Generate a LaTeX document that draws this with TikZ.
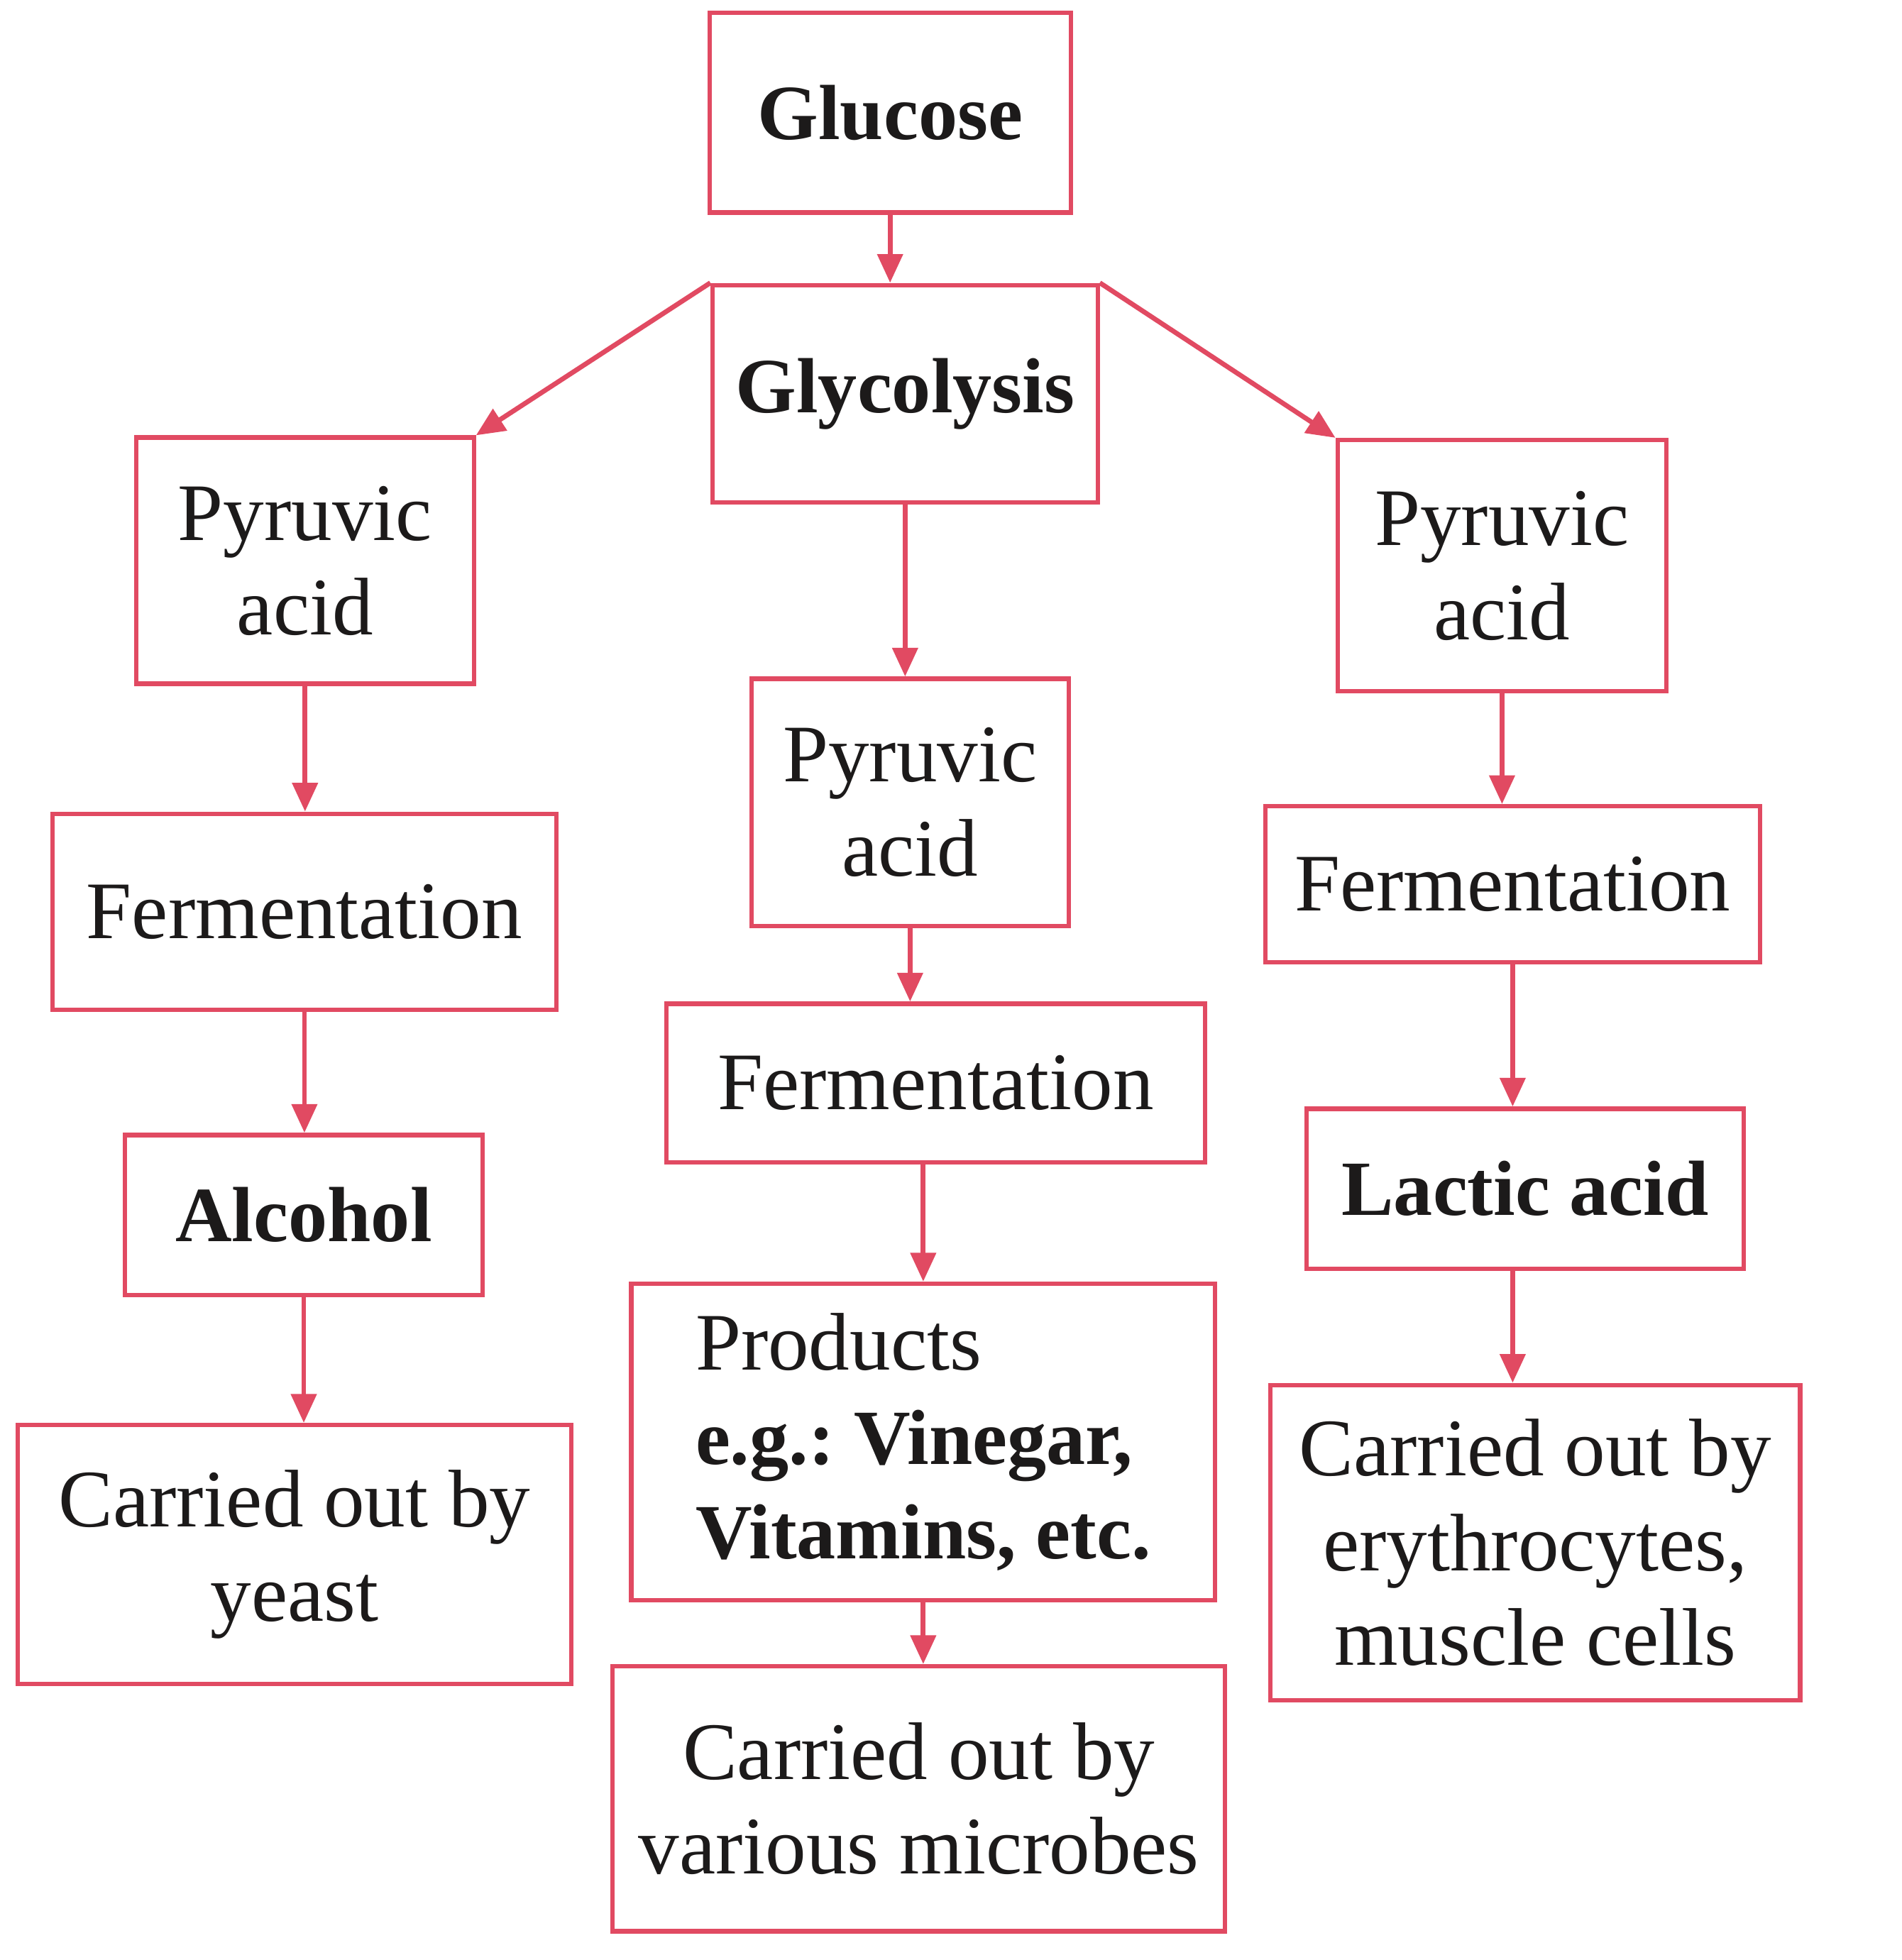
\documentclass[tikz,border=0pt]{standalone}
\usepackage{fontspec}
\setmainfont{Liberation Serif}
\usepackage{tikz}
\usetikzlibrary{arrows.meta,calc}
\frenchspacing
\definecolor{FlowRed}{HTML}{E14A62}
\definecolor{FlowInk}{HTML}{1C1A1A}
\tikzset{
  flowbox/.style={
    rectangle,
    draw=FlowRed,
    line width=1pt,
    fill=white,
    align=center,
    inner sep=0pt,
    text=FlowInk,
    font=\fontsize{18.6}{21.5}\selectfont
  },
  flowbold/.style={flowbox,font=\fontsize{17.8}{21.5}\selectfont\bfseries},
  flowarrow/.style={-{Triangle[length=2.3mm,width=2mm]},line width=1.1pt,draw=FlowRed},
}
\newcommand{\boldline}[1]{{\fontsize{17.8}{21.5}\selectfont\bfseries #1}}

\begin{document}
\begin{tikzpicture}
  \useasboundingbox (0,0) rectangle (15.21,-15.68);

  % top of the chart
  \node[flowbold,minimum width=2.89cm,minimum height=1.60cm] (glucose) at (7.12,-0.90)
    {Glucose};
  \node[flowbold,minimum width=3.08cm,minimum height=1.74cm] (glycolysis) at (7.24,-3.15)
    {Glycolysis};

  % left branch
  \node[flowbox,minimum width=2.70cm,minimum height=1.97cm] (pyrL) at (2.44,-4.485)
    {Pyruvic\\acid};
  \node[flowbox,minimum width=4.03cm,minimum height=1.57cm] (fermL) at (2.435,-7.295)
    {Fermentation};
  \node[flowbold,minimum width=2.86cm,minimum height=1.28cm] (alcohol) at (2.43,-9.72)
    {Alcohol};
  \node[flowbox,minimum width=4.43cm,minimum height=2.07cm] (yeast) at (2.355,-12.435)
    {Carried out by\\yeast};

  % middle branch
  \node[flowbox,minimum width=2.54cm,minimum height=1.98cm] (pyrM) at (7.28,-6.42)
    {Pyruvic\\acid};
  \node[flowbox,minimum width=4.31cm,minimum height=1.27cm] (fermM) at (7.485,-8.665)
    {Fermentation};
  \node[flowbox,minimum width=4.67cm,minimum height=2.53cm,align=left]
    (products) at (7.385,-11.535)
    {Products\\\boldline{e.g.: Vinegar,}\\\boldline{Vitamins, etc.}};
  \node[flowbox,minimum width=4.90cm,minimum height=2.12cm] (microbes) at (7.35,-14.39)
    {Carried out by\\various microbes};

  % right branch
  \node[flowbox,minimum width=2.63cm,minimum height=2.01cm] (pyrR) at (12.015,-4.525)
    {Pyruvic\\acid};
  \node[flowbox,minimum width=3.96cm,minimum height=1.25cm] (fermR) at (12.10,-7.075)
    {Fermentation};
  \node[flowbold,minimum width=3.50cm,minimum height=1.28cm] (lactic) at (12.20,-9.51)
    {Lactic acid};
  \node[flowbox,minimum width=4.24cm,minimum height=2.52cm] (muscle) at (12.28,-12.34)
    {Carried out by\\erythrocytes,\\muscle cells};

  % connectors
  \draw[flowarrow] (glycolysis.north west) -- (pyrL.north east);
  \draw[flowarrow] (glycolysis.north east) -- (pyrR.north west);
  \foreach \from/\to in {glucose/glycolysis,glycolysis/pyrM,
    pyrL/fermL,fermL/alcohol,alcohol/yeast,
    pyrM/fermM,products/microbes,
    pyrR/fermR,fermR/lactic}
    \draw[flowarrow] (\from.south) -- (\from.south |- \to.north);
  \draw[flowarrow] (products.north |- fermM.south) -- (products.north);
  \draw[flowarrow] (fermR.south |- lactic.south) -- (fermR.south |- muscle.north);
\end{tikzpicture}
\end{document}
